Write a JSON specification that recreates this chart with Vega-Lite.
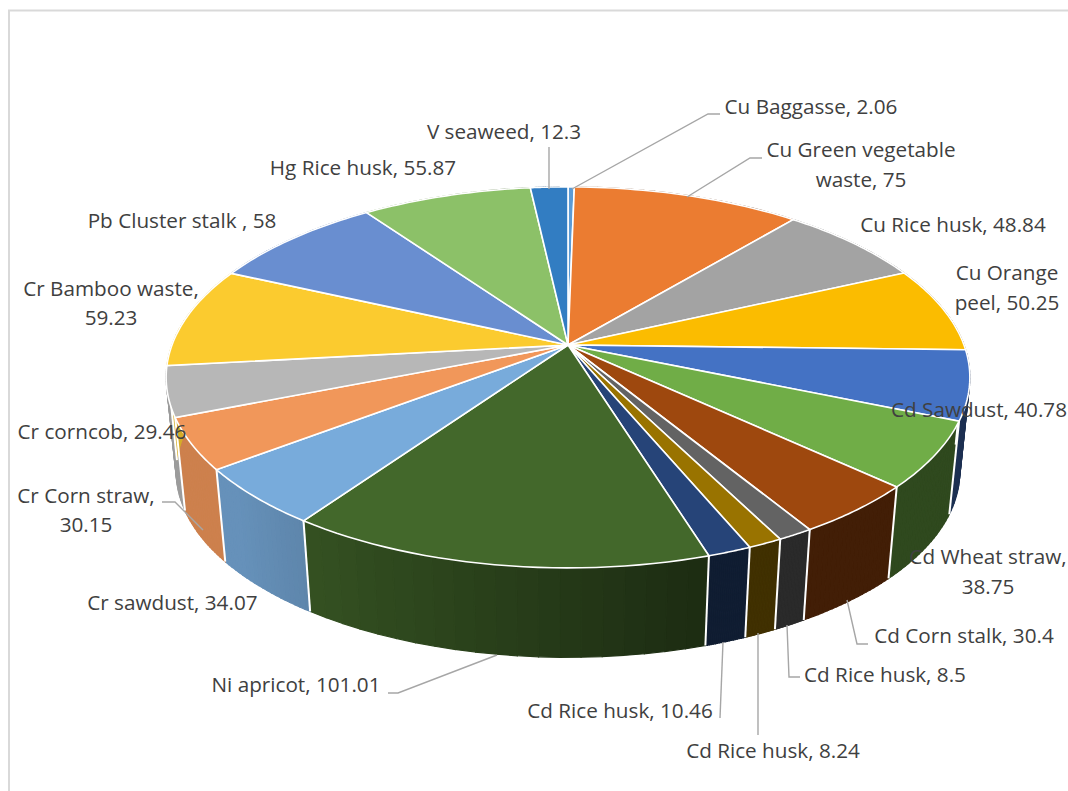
{
  "$schema": "https://vega.github.io/schema/vega-lite/v6.json",
  "width": 1068,
  "height": 791,
  "autosize": {"type": "none"},
  "padding": 0,
  "background": "white",
  "config": {"view": {"stroke": null}},
  "datasets": {
    "slices": [
      {"order": 1, "sample": "Cu Baggasse", "value": 2.06},
      {"order": 2, "sample": "Cu Green vegetable waste", "value": 75},
      {"order": 3, "sample": "Cu Rice husk", "value": 48.84},
      {"order": 4, "sample": "Cu Orange peel", "value": 50.25},
      {"order": 5, "sample": "Cd Sawdust", "value": 40.78},
      {"order": 6, "sample": "Cd Wheat straw", "value": 38.75},
      {"order": 7, "sample": "Cd Corn stalk", "value": 30.4},
      {"order": 8, "sample": "Cd Rice husk", "value": 8.5},
      {"order": 9, "sample": "Cd Rice husk", "value": 8.24},
      {"order": 10, "sample": "Cd Rice husk", "value": 10.46},
      {"order": 11, "sample": "Ni apricot", "value": 101.01},
      {"order": 12, "sample": "Cr sawdust", "value": 34.07},
      {"order": 13, "sample": "Cr Corn straw", "value": 30.15},
      {"order": 14, "sample": "Cr corncob", "value": 29.46},
      {"order": 15, "sample": "Cr Bamboo waste", "value": 59.23},
      {"order": 16, "sample": "Pb Cluster stalk", "value": 58},
      {"order": 17, "sample": "Hg Rice husk", "value": 55.87},
      {"order": 18, "sample": "V seaweed", "value": 12.3}
    ],
    "labels": [
      {"text": "Cu Baggasse, 2.06", "discX": 0.6075, "discY": -0.5925},
      {"text": "Cu Green vegetable", "discX": 0.7325, "discY": -0.485},
      {"text": "waste, 75", "discX": 0.7325, "discY": -0.41},
      {"text": "Cu Rice husk, 48.84", "discX": 0.9625, "discY": -0.2975},
      {"text": "Cu Orange", "discX": 1.0975, "discY": -0.1775},
      {"text": "peel, 50.25", "discX": 1.0975, "discY": -0.1025},
      {"text": "Cd Sawdust, 40.78", "discX": 1.0275, "discY": 0.165},
      {"text": "Cd Wheat straw,", "discX": 1.05, "discY": 0.5325},
      {"text": "38.75", "discX": 1.05, "discY": 0.6075},
      {"text": "Cd Corn stalk, 30.4", "discX": 0.99, "discY": 0.73},
      {"text": "Cd Rice husk, 8.5", "discX": 0.7925, "discY": 0.8275},
      {"text": "Cd Rice husk, 8.24", "discX": 0.5125, "discY": 1.0175},
      {"text": "Cd Rice husk, 10.46", "discX": 0.13, "discY": 0.9175},
      {"text": "Ni apricot, 101.01", "discX": -0.68, "discY": 0.8525},
      {"text": "Cr sawdust, 34.07", "discX": -0.989, "discY": 0.6475},
      {"text": "Cr Corn straw,", "discX": -1.205, "discY": 0.38},
      {"text": "30.15", "discX": -1.205, "discY": 0.4525},
      {"text": "Cr corncob, 29.46", "discX": -1.165, "discY": 0.22},
      {"text": "Cr Bamboo waste,", "discX": -1.1425, "discY": -0.1375},
      {"text": "59.23", "discX": -1.1425, "discY": -0.065},
      {"text": "Pb Cluster stalk , 58", "discX": -0.965, "discY": -0.3075},
      {"text": "Hg Rice husk, 55.87", "discX": -0.5125, "discY": -0.44},
      {"text": "V seaweed, 12.3", "discX": -0.16, "discY": -0.53}
    ],
    "leaders": [
      {"leader": "Cu Baggasse", "n": 1, "discX": 0.01, "discY": -0.39},
      {"leader": "Cu Baggasse", "n": 2, "discX": 0.35, "discY": -0.5775},
      {"leader": "Cu Baggasse", "n": 3, "discX": 0.38, "discY": -0.5775},
      {"leader": "Cu Green", "n": 1, "discX": 0.2975, "discY": -0.37},
      {"leader": "Cu Green", "n": 2, "discX": 0.455, "discY": -0.4675},
      {"leader": "Cu Green", "n": 3, "discX": 0.485, "discY": -0.4675},
      {"leader": "V seaweed", "n": 1, "discX": -0.0475, "discY": -0.39},
      {"leader": "V seaweed", "n": 2, "discX": -0.0475, "discY": -0.495},
      {"leader": "Cd Corn stalk", "n": 1, "discX": 0.6975, "discY": 0.6375},
      {"leader": "Cd Corn stalk", "n": 2, "discX": 0.7225, "discY": 0.7475},
      {"leader": "Cd Corn stalk", "n": 3, "discX": 0.75, "discY": 0.7475},
      {"leader": "Cd Rice husk 8.5", "n": 1, "discX": 0.5475, "discY": 0.7},
      {"leader": "Cd Rice husk 8.5", "n": 2, "discX": 0.5525, "discY": 0.83},
      {"leader": "Cd Rice husk 8.5", "n": 3, "discX": 0.58, "discY": 0.83},
      {"leader": "Cd Rice husk 8.24", "n": 1, "discX": 0.475, "discY": 0.72},
      {"leader": "Cd Rice husk 8.24", "n": 2, "discX": 0.475, "discY": 0.975},
      {"leader": "Cd Rice husk 10.46", "n": 1, "discX": 0.3875, "discY": 0.7425},
      {"leader": "Cd Rice husk 10.46", "n": 2, "discX": 0.38, "discY": 0.9325},
      {"leader": "Ni apricot", "n": 1, "discX": -0.1775, "discY": 0.775},
      {"leader": "Ni apricot", "n": 2, "discX": -0.425, "discY": 0.87},
      {"leader": "Ni apricot", "n": 3, "discX": -0.45, "discY": 0.87},
      {"leader": "Cr Corn straw", "n": 1, "discX": -0.9125, "discY": 0.4625},
      {"leader": "Cr Corn straw", "n": 2, "discX": -0.9825, "discY": 0.3925},
      {"leader": "Cr Corn straw", "n": 3, "discX": -1.015, "discY": 0.3925}
    ],
    "frame": [
      {"n": 1, "discX": -1.3975, "discY": 1.115},
      {"n": 2, "discX": -1.3975, "discY": -0.836},
      {"n": 3, "discX": 1.25, "discY": -0.836}
    ]
  },
  "encoding": {
    "x": {"field": "discX", "type": "quantitative", "axis": null,
      "scale": {"domain": [-1.42, 1.25], "nice": false, "zero": false}},
    "y": {"field": "discY", "type": "quantitative", "axis": null,
      "scale": {"domain": [1.115, -0.8625], "nice": false, "zero": false}}
  },
  "layer": [
    {
      "data": {"name": "frame"},
      "mark": {"type": "line", "stroke": "#d9d9d9", "strokeWidth": 2},
      "encoding": {"order": {"field": "n", "type": "quantitative"}}
    },
    {
      "data": {"name": "slices"},
      "transform": [
        {"joinaggregate": [{"op": "sum", "field": "value", "as": "total"}]},
        {"window": [{"op": "sum", "field": "value", "as": "cum"}], "sort": [{"field": "order", "order": "ascending"}], "frame": [null, 0]},
        {"calculate": "(datum.cum-datum.value)/datum.total*2*PI", "as": "a0"},
        {"calculate": "datum.cum/datum.total*2*PI", "as": "a1"},
        {"calculate": "['#5B9BD5','#EB7C31','#A3A3A3','#FBBC00','#4472C4','#70AD47','#9E480E','#636363','#997300','#264478','#43682B','#78ABDB','#F1975A','#B7B7B7','#FBCB2F','#698ED0','#8CC168','#327DC2'][datum.order-1]", "as": "base"},
        {"calculate": "[0,1,2,3,4,5,6,7,8,9,10,11,12,13,14,15,16,17,18,19]", "as": "band"},
        {"flatten": ["band"]},
        {"calculate": "[0,1,2,3,4]", "as": "corner"},
        {"flatten": ["corner"]},
        {"calculate": "datum.a0+(datum.a1-datum.a0)*(datum.band+(datum.corner==1||datum.corner==2?1:0))/20", "as": "th"},
        {"calculate": "sin(datum.a0+(datum.a1-datum.a0)*(datum.band+0.5)/20)", "as": "facing"},
        {"calculate": "clamp(0.42+(0.297-datum.facing)/0.872*0.36,0.42,0.85)", "as": "shade"},
        {"calculate": "'rgb('+round(rgb(datum.base).r*datum.shade)+','+round(rgb(datum.base).g*datum.shade)+','+round(rgb(datum.base).b*datum.shade)+')'", "as": "wall"},
        {"calculate": "(datum.corner==2||datum.corner==3?0.975:1)*0.99*sin(datum.th)/(1+0.17*cos(datum.th))", "as": "discX"},
        {"calculate": "(datum.corner==2||datum.corner==3?0.2375:0)-(datum.corner==2||datum.corner==3?0.975:1)*0.4625*cos(datum.th)/(1+0.17*cos(datum.th))", "as": "discY"}
      ],
      "mark": {"type": "line", "strokeWidth": 1.2},
      "encoding": {
        "detail": [{"field": "order", "type": "nominal"}, {"field": "band", "type": "nominal"}],
        "fill": {"field": "wall", "type": "nominal", "scale": null},
        "stroke": {"field": "wall", "type": "nominal", "scale": null},
        "order": {"field": "corner", "type": "quantitative"}
      }
    },
    {
      "data": {"name": "slices"},
      "transform": [
        {"joinaggregate": [{"op": "sum", "field": "value", "as": "total"}]},
        {"window": [{"op": "sum", "field": "value", "as": "cum"}], "sort": [{"field": "order", "order": "ascending"}], "frame": [null, 0]},
        {"calculate": "(datum.cum-datum.value)/datum.total*2*PI", "as": "a0"},
        {"calculate": "[0,1]", "as": "end"},
        {"flatten": ["end"]},
        {"calculate": "(datum.end==0?1:0.975)*0.99*sin(datum.a0)/(1+0.17*cos(datum.a0))", "as": "discX"},
        {"calculate": "(datum.end==0?0:0.2375)-(datum.end==0?1:0.975)*0.4625*cos(datum.a0)/(1+0.17*cos(datum.a0))", "as": "discY"}
      ],
      "mark": {"type": "line", "stroke": "white", "strokeWidth": 2},
      "encoding": {
        "detail": {"field": "order", "type": "nominal"},
        "order": {"field": "end", "type": "quantitative"}
      }
    },
    {
      "data": {"name": "slices"},
      "transform": [
        {"joinaggregate": [{"op": "sum", "field": "value", "as": "total"}]},
        {"window": [{"op": "sum", "field": "value", "as": "cum"}], "sort": [{"field": "order", "order": "ascending"}], "frame": [null, 0]},
        {"calculate": "(datum.cum-datum.value)/datum.total*2*PI", "as": "a0"},
        {"calculate": "datum.cum/datum.total*2*PI", "as": "a1"},
        {"calculate": "['#5B9BD5','#EB7C31','#A3A3A3','#FBBC00','#4472C4','#70AD47','#9E480E','#636363','#997300','#264478','#43682B','#78ABDB','#F1975A','#B7B7B7','#FBCB2F','#698ED0','#8CC168','#327DC2'][datum.order-1]", "as": "base"},
        {"calculate": "[-1,0,1,2,3,4,5,6,7,8,9,10,11,12,13,14,15,16,17,18,19,20,21,22,23,24,25,26,27,28,29,30,31]", "as": "step"},
        {"flatten": ["step"]},
        {"calculate": "datum.a0+(datum.a1-datum.a0)*datum.step/30", "as": "th"},
        {"calculate": "datum.step<0||datum.step>30?0:0.99*sin(datum.th)/(1+0.17*cos(datum.th))", "as": "discX"},
        {"calculate": "datum.step<0||datum.step>30?0:-0.4625*cos(datum.th)/(1+0.17*cos(datum.th))", "as": "discY"}
      ],
      "mark": {"type": "line", "stroke": "white", "strokeWidth": 1.6, "strokeJoin": "miter"},
      "encoding": {
        "detail": {"field": "order", "type": "nominal"},
        "fill": {"field": "base", "type": "nominal", "scale": null},
        "order": {"field": "step", "type": "quantitative"}
      }
    },
    {
      "data": {"name": "leaders"},
      "mark": {"type": "line", "stroke": "#a6a6a6", "strokeWidth": 1.4},
      "encoding": {
        "detail": {"field": "leader", "type": "nominal"},
        "order": {"field": "n", "type": "quantitative"}
      }
    },
    {
      "data": {"name": "labels"},
      "mark": {"type": "text", "font": "Open Sans", "fontSize": 20.7, "color": "#404040", "align": "center", "baseline": "middle"},
      "encoding": {"text": {"field": "text", "type": "nominal"}}
    }
  ]
}
